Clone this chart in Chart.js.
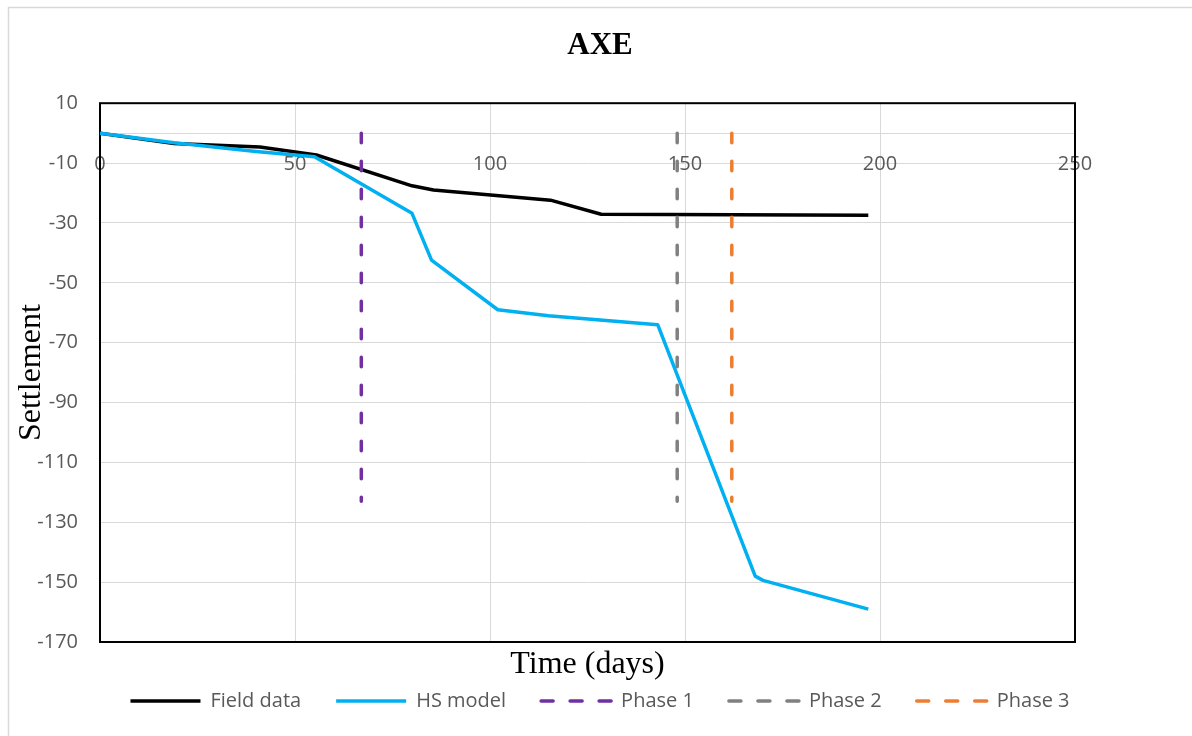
<!DOCTYPE html>
<html>
<head>
<meta charset="utf-8">
<title>AXE</title>
<script src="https://cdn.jsdelivr.net/npm/chart.js@4.4.1/dist/chart.umd.min.js"></script>
<style>
  html, body { margin: 0; padding: 0; background: #fff; }
</style>
</head>
<body>
<canvas id="graficaAxe" width="1192" height="736"></canvas>
<script>
// Field measurements
var fieldDays = [0, 19, 41, 55.5, 80, 85.5, 115.5, 128.5, 197];
var fieldSettlement = [0, -3.5, -4.6, -7.3, -17.6, -19, -22.4, -27.1, -27.4];

// HS model prediction
var hsDays = [0, 19, 40, 55, 80, 85, 102, 115, 143, 168, 170, 197];
var hsSettlement = [0, -3.2, -6.1, -7.9, -26.8, -42.4, -59, -61, -64, -148, -149.4, -159];

// construction phases (vertical markers)
var phaseNames = ['Phase 1', 'Phase 2', 'Phase 3'];
var phaseDays = [67, 148, 162];
var phaseTop = 0;
var phaseBottom = -123;
var phaseColors = ['#7030A0', '#808080', '#ED7D31'];

var sans = "'Open Sans', 'Liberation Sans', sans-serif";
var serif = "'Liberation Serif', 'Times New Roman', serif";

function pts(xs, ys) {
    return xs.map(function(x, i) { return { x: x, y: ys[i] }; });
}

var datasets = [
    {
        label: 'Field data',
        data: pts(fieldDays, fieldSettlement),
        borderColor: '#000000',
        backgroundColor: '#000000',
        borderWidth: 3.5,
        order: 5
    },
    {
        label: 'HS model',
        data: pts(hsDays, hsSettlement),
        borderColor: '#00B0F0',
        backgroundColor: '#00B0F0',
        borderWidth: 3.5,
        order: 4
    }
];
phaseDays.forEach(function(d, i) {
    datasets.push({
        label: phaseNames[i],
        data: [{ x: d, y: phaseTop }, { x: d, y: phaseBottom }],
        borderColor: phaseColors[i],
        backgroundColor: phaseColors[i],
        borderWidth: 3.5,
        borderDash: [9.5, 18.5],
        borderCapStyle: 'round',
        order: 3 - i
    });
});

// outer chart border + black frame around the plot area
var marco = {
    id: 'marco',
    beforeDraw: function(chart) {
        var ctx = chart.ctx;
        ctx.save();
        ctx.fillStyle = '#ffffff';
        ctx.fillRect(0, 0, chart.width, chart.height);
        ctx.strokeStyle = '#D9D9D9';
        ctx.lineWidth = 1.5;
        ctx.strokeRect(8.5, 7.5, chart.width + 10, chart.height + 10);
        ctx.restore();
    },
    beforeDatasetsDraw: function(chart) {
        var a = chart.chartArea;
        var ctx = chart.ctx;
        ctx.save();
        ctx.strokeStyle = '#000000';
        ctx.lineWidth = 2;
        ctx.strokeRect(a.left, a.top, a.right - a.left, a.bottom - a.top);
        ctx.restore();
    }
};

// legend samples: keep the dataset's line width and dash pattern
function leyenda(chart) {
    var items = Chart.defaults.plugins.legend.labels.generateLabels(chart);
    items.forEach(function(it) {
        var ds = chart.data.datasets[it.datasetIndex];
        it.lineWidth = ds.borderWidth;
        it.lineDash = ds.borderDash ? [12, 17] : [];
        it.lineCap = ds.borderCapStyle || 'butt';
    });
    return items;
}

var ctx = document.getElementById('graficaAxe').getContext('2d');
var graficaAxe = new Chart(ctx, {
    type: 'line',
    data: { datasets: datasets },
    plugins: [marco],
    options: {
        responsive: false,
        animation: false,
        events: [],
        elements: {
            point: { radius: 0 },
            line: { tension: 0, borderJoinStyle: 'round' }
        },
        layout: { padding: { left: 8, right: 0, top: 0, bottom: 15 } },
        scales: {
            x: {
                type: 'linear',
                axis: 'x',
                position: { y: 0 },
                min: 0,
                max: 250,
                ticks: { stepSize: 50, padding: 19, color: '#595959', font: { family: sans, size: 20 } },
                grid: { color: '#D9D9D9', lineWidth: 1, drawTicks: false },
                border: { color: '#D9D9D9', width: 1 }
            },
            x2: {
                type: 'linear',
                axis: 'x',
                position: 'bottom',
                min: 0,
                max: 250,
                ticks: { display: false },
                grid: { display: false, drawTicks: false },
                border: { display: false },
                title: {
                    display: true,
                    text: 'Time (days)',
                    color: '#000000',
                    font: { family: serif, size: 32 },
                    padding: { top: 0, bottom: -28 }
                },
                afterFit: function(s) { s.height = 14; }
            },
            y: {
                type: 'linear',
                position: 'left',
                min: -170,
                max: 10,
                ticks: { stepSize: 20, padding: 22, color: '#595959', font: { family: sans, size: 20 } },
                grid: { color: '#D9D9D9', lineWidth: 1, drawTicks: false },
                border: { display: false },
                title: {
                    display: true,
                    text: 'Settlement',
                    color: '#000000',
                    font: { family: serif, size: 32 },
                    padding: { top: 4, bottom: 0 }
                },
                afterFit: function(s) { s.width = 92; }
            },
            y2: {
                type: 'linear',
                axis: 'y',
                position: 'right',
                min: -170,
                max: 10,
                ticks: { display: false },
                grid: { display: false, drawTicks: false },
                border: { display: false },
                afterFit: function(s) { s.width = 117; }
            }
        },
        plugins: {
            title: {
                display: true,
                text: 'AXE',
                color: '#000000',
                font: { family: serif, size: 31, weight: 'bold' },
                padding: { top: 27, bottom: 39 }
            },
            legend: {
                position: 'bottom',
                labels: {
                    usePointStyle: true,
                    pointStyle: 'line',
                    pointStyleWidth: 70,
                    padding: 35,
                    color: '#595959',
                    font: { family: sans, size: 20 },
                    generateLabels: leyenda,
                    sort: function(a, b) { return a.datasetIndex - b.datasetIndex; }
                }
            },
            tooltip: { enabled: false }
        }
    }
});
</script>
</body>
</html>
